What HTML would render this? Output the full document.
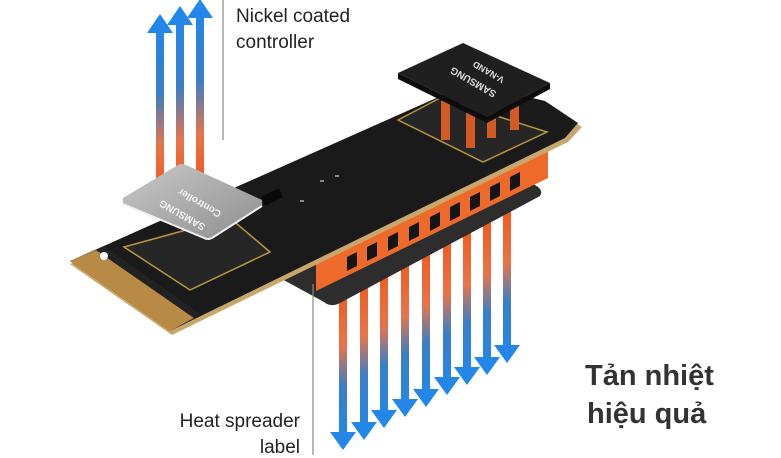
<!DOCTYPE html>
<html><head><meta charset="utf-8"><style>
html,body{margin:0;padding:0;background:#fff;}
svg{display:block}
</style></head><body>
<svg width="781" height="458" viewBox="0 0 781 458" xmlns="http://www.w3.org/2000/svg" font-family="Liberation Sans, sans-serif">
<defs>
<linearGradient id="up" x1="0" y1="0" x2="0" y2="1">
<stop offset="0" stop-color="#1e88f0"/><stop offset="0.45" stop-color="#3a7fc6"/><stop offset="0.75" stop-color="#e8744a"/><stop offset="1" stop-color="#f05a1e"/>
</linearGradient>
<linearGradient id="dn" x1="0" y1="0" x2="0" y2="1">
<stop offset="0" stop-color="#f05a1e"/><stop offset="0.35" stop-color="#e8744a"/><stop offset="0.6" stop-color="#3a7fc6"/><stop offset="1" stop-color="#1e88f0"/>
</linearGradient>
<linearGradient id="ctl" x1="0" y1="0" x2="1" y2="1">
<stop offset="0" stop-color="#c9c9c9"/><stop offset="1" stop-color="#8e8e8e"/>
</linearGradient>
</defs>

<!-- down arrows -->
<g fill="url(#dn)">
<path d="M339,290 h8 v142 h9 l-13,18 l-13,-18 h9z"/>
<path d="M360,280 h8 v142 h9 l-13,18 l-13,-18 h9z"/>
<path d="M380,270 h8 v140 h9 l-13,18 l-13,-18 h9z"/>
<path d="M401,260 h8 v139 h9 l-13,18 l-13,-18 h9z"/>
<path d="M422,250 h8 v139 h9 l-13,18 l-13,-18 h9z"/>
<path d="M443,240 h8 v137 h9 l-13,18 l-13,-18 h9z"/>
<path d="M463,230 h8 v137 h9 l-13,18 l-13,-18 h9z"/>
<path d="M483,220 h8 v137 h9 l-13,18 l-13,-18 h9z"/>
<path d="M503,210 h8 v135 h9 l-13,18 l-13,-18 h9z"/>
</g>

<!-- heat spreader plate -->
<path d="M280,278 L500,168 L535,185 Q544,190 540,196 L338,304 Q330,307 324,302 Z" fill="#2d2d2d"/>

<!-- fins band -->
<path d="M316,259 L548,146 L548,178 L316,291 Z" fill="#ee6a2a"/>
<g fill="#151515">
<path d="M347,257 l10,-5 v14 l-10,5z"/>
<path d="M367,247 l10,-5 v14 l-10,5z"/>
<path d="M388,237 l10,-5 v14 l-10,5z"/>
<path d="M409,227 l10,-5 v14 l-10,5z"/>
<path d="M430,217 l10,-5 v14 l-10,5z"/>
<path d="M450,207 l10,-5 v14 l-10,5z"/>
<path d="M470,197 l10,-5 v14 l-10,5z"/>
<path d="M490,187 l10,-5 v14 l-10,5z"/>
<path d="M510,177 l10,-5 v14 l-10,5z"/>
</g>

<!-- board -->
<path d="M70,264 L470,86 L545,104 L582,127 L568,142 L172,335 Z" fill="#c9a66b"/>
<path d="M70,261 L470,83 L545,101 L578,123 L565,138 L170,331 Z" fill="#1a1a1a"/>
<!-- gold fingers along left end -->
<path d="M70,261 L96,250 L194,318 L170,331 Z" fill="#b88a45"/>
<path d="M96,250 L104,246 L200,314 L194,318 Z" fill="#222"/>
<circle cx="104" cy="256" r="4" fill="#fff"/>
<!-- lower chip -->
<path d="M124,247 L230,218 L270,252 L190,290 Z" fill="#262626" stroke="#b8953e" stroke-width="1.5"/>
<!-- nand chip on board -->
<path d="M398,120 L440,98 L547,132 L483,162 Z" fill="#262626" stroke="#b8953e" stroke-width="1.5"/>
<!-- small components -->
<rect x="262" y="192" width="20" height="10" fill="#0a0a0a" transform="rotate(-25 272 197)"/>
<g fill="#888"><rect x="320" y="180" width="4" height="2"/><rect x="335" y="175" width="4" height="2"/><rect x="300" y="200" width="4" height="2"/></g>

<!-- fins over nand -->
<g fill="#d35a22">
<rect x="441" y="100" width="9" height="40"/><rect x="466" y="100" width="9" height="48"/><rect x="487" y="100" width="9" height="38"/><rect x="510" y="95" width="9" height="35"/>
</g>

<!-- V-NAND chip -->
<path d="M398,73 L463,43 L550,83 L487,117 Z" fill="#1f1f1f"/>
<path d="M398,73 L487,117 L550,83 L550,89 L487,123 L398,79 Z" fill="#0c0c0c"/>
<text fill="#ddd" font-size="10" font-weight="bold" transform="translate(497,92) rotate(210)">SAMSUNG</text>
<text fill="#ddd" font-size="9" font-weight="bold" transform="translate(505,78) rotate(210)">V-NAND</text>

<!-- up arrows -->
<g fill="url(#up)">
<path d="M156,190 v-157 h-9 l13,-19 l13,19 h-9 v157z"/>
<path d="M176,185 v-160 h-9 l13,-19 l13,19 h-9 v160z"/>
<path d="M196,180 v-162 h-9 l13,-19 l13,19 h-9 v162z"/>
</g>

<!-- controller -->
<path d="M123,198 L178,165 Q182,163 186,165 L262,200 L262,206 L212,238 Q208,240 204,238 L123,204 Z" fill="url(#ctl)"/>
<path d="M123,204 L204,238 Q208,240 212,238 L262,206" fill="none" stroke="#f0f0f0" stroke-width="2"/>
<text fill="#f4f4f4" font-size="10" font-weight="bold" transform="translate(206,225) rotate(210)">SAMSUNG</text>
<text fill="#f4f4f4" font-size="10" font-weight="bold" transform="translate(222,212) rotate(210)">Controller</text>

<!-- leader lines -->
<line x1="223" y1="0" x2="223" y2="140" stroke="#888" stroke-width="1.2"/>
<line x1="313" y1="284" x2="313" y2="455" stroke="#888" stroke-width="1.2"/>

<!-- labels -->
<g fill="#222" font-size="19">
<text x="236" y="22">Nickel coated</text>
<text x="236" y="48">controller</text>
<text x="300" y="427" text-anchor="end">Heat spreader</text>
<text x="300" y="453" text-anchor="end">label</text>
</g>
<g fill="#333" font-size="29" font-weight="bold">
<text x="585" y="385">Tản nhiệt</text>
<text x="587" y="423">hiệu quả</text>
</g>
</svg>
</body></html>
